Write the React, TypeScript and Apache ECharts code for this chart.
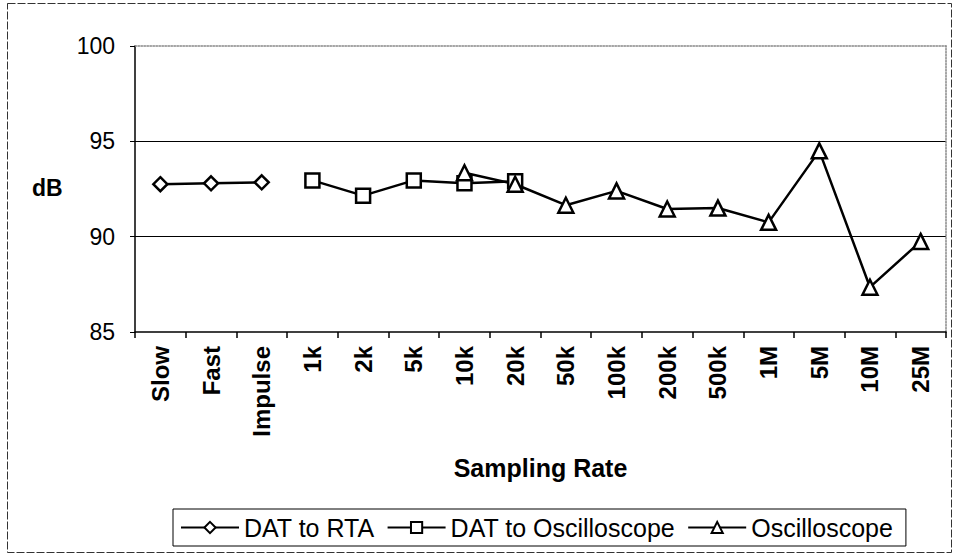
import React, { useEffect, useRef } from "react";
import * as echarts from "echarts";

const categories = ["Slow", "Fast", "Impulse", "1k", "2k", "5k", "10k", "20k", "50k", "100k", "200k", "500k", "1M", "5M", "10M", "25M"];
const datToRta = [92.75, 92.8, 92.85, "-", "-", "-", "-", "-", "-", "-", "-", "-", "-", "-", "-", "-"];
const datToOsc = ["-", "-", "-", 92.95, 92.15, 92.95, 92.8, 92.9, "-", "-", "-", "-", "-", "-", "-", "-"];
const oscilloscope = ["-", "-", "-", "-", "-", "-", 93.35, 92.75, 91.65, 92.4, 91.45, 91.5, 90.75, 94.5, 87.35, 89.75];
const seriesNames = ["DAT to RTA", "DAT to Oscilloscope", "Oscilloscope"];

const FONT = "'Liberation Sans', Arial, sans-serif";

export default function App() {
  const ref = useRef<HTMLDivElement>(null);
  useEffect(() => {
    if (!ref.current) return;
    const chart = echarts.init(ref.current, null, { renderer: "svg" });
    const lineSeries = (name: string, data: any[], symbol: string, size: number) => ({
      name,
      type: "line",
      data,
      symbol,
      symbolSize: size,
      connectNulls: false,
      lineStyle: { color: "#000", width: 2.5 },
      itemStyle: { color: "#fff", borderColor: "#000", borderWidth: 2.5 },
      emphasis: { disabled: true },
    });
    chart.setOption({
      animation: false,
      backgroundColor: "#fff",
      textStyle: { fontFamily: FONT, color: "#000" },
      grid: { left: 135, right: 8, top: 46, bottom: 223, containLabel: false },
      graphic: [
        {
          type: "rect",
          shape: { x: 7.5, y: 3.5, width: 944, height: 549 },
          style: { fill: "none", stroke: "#333", lineWidth: 1, lineDash: [8, 2] },
          silent: true,
        },
        {
          type: "text",
          x: 32,
          y: 188,
          style: { text: "dB", font: `bold 23px ${FONT}`, fill: "#000", verticalAlign: "middle", align: "left" },
        },
      ],
      legend: {
        data: seriesNames,
        left: 173,
        top: 509,
        orient: "horizontal",
        padding: [6, 13, 6, 7],
        itemGap: 12,
        itemWidth: 58,
        itemHeight: 14,
        borderColor: "#000",
        borderWidth: 1,
        borderRadius: 0,
        textStyle: { fontFamily: FONT, fontSize: 25, color: "#000", padding: [0, 0, 0, 0] },
      },
      xAxis: [
        {
          type: "category",
          data: categories,
          boundaryGap: true,
          axisLine: { lineStyle: { color: "#000", width: 1.5 } },
          axisTick: { show: true, alignWithLabel: false, length: 6, lineStyle: { color: "#000", width: 1.5 } },
          axisLabel: { rotate: 90, fontSize: 24, fontWeight: "bold", fontFamily: FONT, color: "#000", margin: 14 },
          name: "Sampling Rate",
          nameLocation: "middle",
          nameGap: 123,
          nameTextStyle: { fontFamily: FONT, fontSize: 25, fontWeight: "bold", color: "#000" },
          splitLine: { show: false },
        },
        {
          type: "category",
          data: categories,
          position: "top",
          axisLine: { lineStyle: { color: "#888", width: 1.5, type: "dotted" } },
          axisTick: { show: false },
          axisLabel: { show: false },
          splitLine: { show: false },
        },
      ],
      yAxis: [
        {
          type: "value",
          min: 85,
          max: 100,
          interval: 5,
          axisLine: { show: true, lineStyle: { color: "#000", width: 1.5 } },
          axisTick: { show: true, length: 5, lineStyle: { color: "#000", width: 1 } },
          axisLabel: { fontSize: 23, fontFamily: FONT, color: "#000", margin: 20 },
          splitLine: { show: true, showMinLine: false, showMaxLine: false, lineStyle: { color: "#000", width: 1 } },
        },
        {
          type: "value",
          min: 85,
          max: 100,
          interval: 5,
          position: "right",
          axisLine: { show: true, lineStyle: { color: "#888", width: 1.5, type: "dotted" } },
          axisTick: { show: false },
          axisLabel: { show: false },
          splitLine: { show: false },
        },
      ],
      series: [
        lineSeries(seriesNames[0], datToRta, "diamond", 14),
        lineSeries(seriesNames[1], datToOsc, "rect", 14),
        lineSeries(seriesNames[2], oscilloscope, "triangle", 15),
      ],
    });
    return () => chart.dispose();
  }, []);
  return <div ref={ref} style={{ position: "absolute", left: 0, top: 0, width: 954, height: 555 }} />;
}
